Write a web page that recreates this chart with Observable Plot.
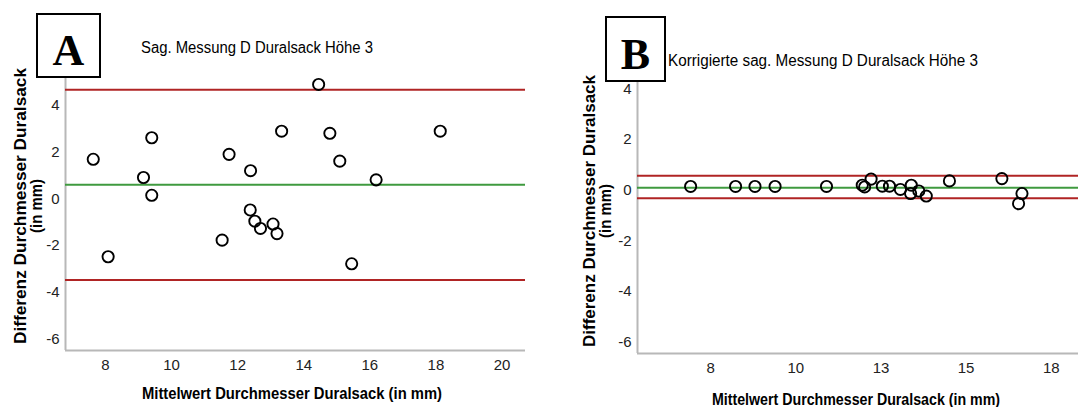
<!DOCTYPE html>
<html>
<head>
<meta charset="utf-8">
<script src="https://cdn.jsdelivr.net/npm/d3@7"></script>
<script src="https://cdn.jsdelivr.net/npm/@observablehq/plot@0.6"></script>
<style>
  html, body { margin: 0; padding: 0; background: #fff; }
  #wrap { position: relative; width: 1078px; height: 407px; overflow: hidden; background: #fff; }
  #wrap > .panel { position: absolute; top: 0; }
  #overlay { position: absolute; left: 0; top: 0; pointer-events: none; }
</style>
</head>
<body>
<div id="wrap"></div>
<script>
// ---------- Panel A data ----------
const titleA = "Sag. Messung D Duralsack Höhe 3";
const meanA = [7.63, 9.15, 9.40, 9.40, 11.74, 12.39, 13.33, 14.45, 14.79, 15.09, 16.19, 18.13,
               8.08, 11.53, 12.38, 12.52, 12.69, 13.07, 13.19, 15.45];
const diffA = [1.69, 0.91, 2.61, 0.15, 1.90, 1.20, 2.89, 4.89, 2.80, 1.61, 0.81, 2.89,
               -2.48, -1.77, -0.48, -0.96, -1.27, -1.08, -1.49, -2.78];
const limitsA = [4.66, -3.47];   // upper / lower limit of agreement
const biasA = [0.60];
const xTicksA = [8, 10, 12, 14, 16, 18, 20];
const yTicks = [-6, -4, -2, 0, 2, 4];

// ---------- Panel B data ----------
const titleB = "Korrigierte sag. Messung D Duralsack Höhe 3";
const meanB = [6.91, 8.23, 8.80, 9.39, 10.90, 11.95, 12.02, 12.21, 12.54, 12.75, 13.07,
               13.39, 13.37, 13.61, 13.83, 14.51, 16.05, 16.64, 16.54];
const diffB = [0.15, 0.15, 0.15, 0.15, 0.15, 0.20, 0.13, 0.44, 0.16, 0.16, 0.03,
               0.20, -0.13, -0.03, -0.23, 0.37, 0.46, -0.13, -0.53];
const limitsB = [0.57, -0.32];
const biasB = [0.10];
const xTicksB = [7.5, 10, 12.5, 15, 17.5];

const xTitle = "Mittelwert Durchmesser Duralsack (in mm)";
const yTitle1 = "Differenz Durchmesser Duralsack";
const yTitle2 = "(in mm)";

const RED = "#b02424", GREEN = "#3f9a3f", AXIS = "#b8b8b8";

function panel({mean, diff, limits, bias, xDomain, yDomain, xTicks, xFmt,
                width, mLeft, mRight, mTop, mBottom}) {
  const pts = mean.map((m, i) => ({m, d: diff[i]}));
  return Plot.plot({
    width, height: 407,
    marginLeft: mLeft, marginRight: mRight, marginTop: mTop, marginBottom: mBottom,
    style: {fontFamily: "'Liberation Sans', Arial, sans-serif", fontSize: "15px", color: "#222", background: "transparent"},
    x: {domain: xDomain},
    y: {domain: yDomain},
    marks: [
      Plot.ruleX([xDomain[0]], {stroke: AXIS, strokeWidth: 2}),
      Plot.ruleY([yDomain[0]], {stroke: AXIS, strokeWidth: 2}),
      Plot.ruleY(limits, {stroke: RED, strokeWidth: 2}),
      Plot.ruleY(bias, {stroke: GREEN, strokeWidth: 2}),
      Plot.dot(pts, {x: "m", y: "d", r: 5.6, stroke: "#000", strokeWidth: 1.9, fill: "none"}),
      Plot.axisX(xTicks, {tickSize: 0, tickPadding: 9, label: null, tickFormat: xFmt, fontSize: 15}),
      Plot.axisY(yTicks, {tickSize: 0, tickPadding: 6, label: null, tickFormat: d => `${d}`, fontSize: 15})
    ]
  });
}

const wrap = document.getElementById("wrap");

const pA = panel({mean: meanA, diff: diffA, limits: limitsA, bias: biasA,
  xDomain: [6.79, 20.71], yDomain: [-6.49, 5.23], xTicks: xTicksA, xFmt: d => `${d}`,
  width: 539, mLeft: 65, mRight: 14, mTop: 76, mBottom: 57});
pA.classList.add("panel"); pA.style.left = "0px";
wrap.appendChild(pA);

const pB = panel({mean: meanB, diff: diffB, limits: limitsB, bias: biasB,
  xDomain: [5.35, 18.3], yDomain: [-6.46, 4.5], xTicks: xTicksB, xFmt: d => `${Math.round(d)}`,
  width: 539, mLeft: 98, mRight: 0, mTop: 76, mBottom: 54});
pB.classList.add("panel"); pB.style.left = "539px";
wrap.appendChild(pB);

// ---------- overlay: titles, letter boxes, axis titles ----------
const svg = d3.select(wrap).append("svg").attr("id", "overlay")
  .attr("width", 1078).attr("height", 407)
  .style("font-family", "'Liberation Sans', Arial, sans-serif");

function letterBox(x, y, w, h, letter, tx, ty) {
  svg.append("rect").attr("x", x).attr("y", y).attr("width", w).attr("height", h)
    .attr("fill", "#fff").attr("stroke", "#000").attr("stroke-width", 2);
  svg.append("text").attr("x", tx).attr("y", ty).attr("text-anchor", "middle")
    .style("font-family", "'Liberation Serif', 'Times New Roman', serif")
    .style("font-weight", "bold").style("font-size", "44px").text(letter);
}
letterBox(37, 14, 63, 63, "A", 68.5, 65);
letterBox(606, 17, 59, 64, "B", 635.5, 69);

function title(x, y, txt, len) {
  svg.append("text").attr("x", x).attr("y", y).style("font-size", "16px")
    .style("font-weight", "500")
    .attr("textLength", len).attr("lengthAdjust", "spacingAndGlyphs").text(txt);
}
title(141, 53, titleA, 232);
title(668, 66, titleB, 310);

function xLabel(cx, y, len) {
  svg.append("text").attr("x", cx - len / 2).attr("y", y)
    .style("font-size", "16px").style("font-weight", "bold")
    .attr("textLength", len).attr("lengthAdjust", "spacingAndGlyphs").text(xTitle);
}
xLabel(292, 399, 300);
xLabel(856, 405, 288);

function yLabel(x1, x2, cy, len, len2) {
  svg.append("text").attr("transform", `translate(${x1},${cy}) rotate(-90)`)
    .attr("x", -len / 2).attr("y", 0)
    .style("font-size", "16px").style("font-weight", "bold")
    .attr("textLength", len).attr("lengthAdjust", "spacingAndGlyphs").text(yTitle1);
  svg.append("text").attr("transform", `translate(${x2},${cy}) rotate(-90)`)
    .attr("x", -len2 / 2).attr("y", 0)
    .style("font-size", "16px").style("font-weight", "bold")
    .attr("textLength", len2).attr("lengthAdjust", "spacingAndGlyphs").text(yTitle2);
}
yLabel(26, 42, 206, 276, 54);
yLabel(595, 611, 211, 272, 54);
</script>
</body>
</html>
